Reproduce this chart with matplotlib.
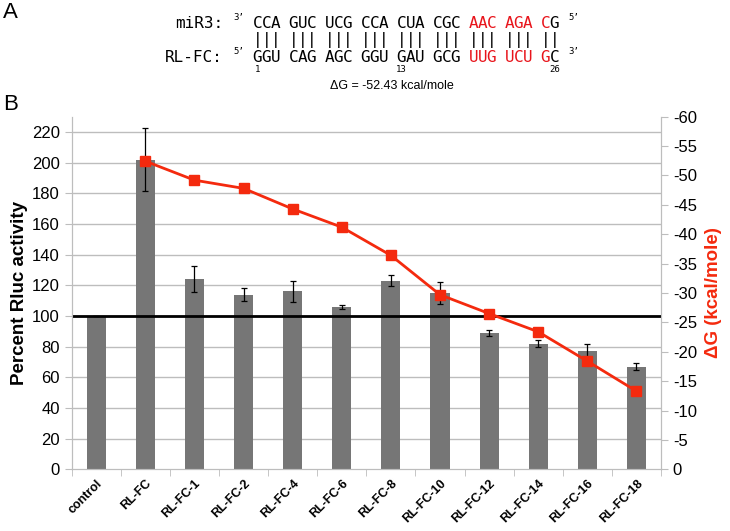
import matplotlib
matplotlib.use("Agg")
import matplotlib.pyplot as plt
import numpy as np

plt.rcParams['font.family'] = ['Liberation Sans', 'DejaVu Sans']
plt.rcParams['axes.unicode_minus'] = False

# Data
constructs = ['control', 'RL-FC', 'RL-FC-1', 'RL-FC-2', 'RL-FC-4', 'RL-FC-6',
              'RL-FC-8', 'RL-FC-10', 'RL-FC-12', 'RL-FC-14', 'RL-FC-16', 'RL-FC-18']
rluc_activity = [100, 202, 124, 114, 116, 106, 123, 115, 89, 82, 77, 67]
rluc_error = [0, 20.5, 8.5, 4.5, 7, 1.3, 3.5, 7.3, 1.9, 2.3, 5, 2.4]
delta_g = [np.nan, -52.43, -49.2, -47.8, -44.3, -41.2, -36.4, -29.7, -26.5, -23.4, -18.4, -13.3]

mir3_seq = "CCA GUC UCG CCA CUA CGC AAC AGA CG"
target_seq = "GGU CAG AGC GGU GAU GCG UUG UCU GC"
pair_marks = "||| ||| ||| ||| ||| ||| ||| ||| ||"
red_positions = [24, 25, 26, 28, 29, 30, 32]
position_labels = {0: '1', 16: '13', 33: '26'}

W, H = 730, 531
fig = plt.figure(figsize=(W / 100, H / 100), dpi=100)


def fx(px):
    return px / W


def fy(py):
    return 1 - py / H


# ---- panel A: sequence alignment ----
fig.text(fx(3), fy(13), 'A', fontsize=16, va='center', ha='left')
fig.text(fx(3), fy(104), 'B', fontsize=16, va='center', ha='left')

mono = 'DejaVu Sans Mono'
seq_size = 11.5
x0, step = 257.5, 9.0
rows = [(23, 'miR3:', mir3_seq, '3’', '5’'),
        (57, 'RL-FC:', target_seq, '5’', '3’')]
for y, label, seq, left_end, right_end in rows:
    fig.text(fx(223), fy(y), label, family=mono, fontsize=seq_size, ha='right', va='center')
    fig.text(fx(233), fy(y - 5), left_end, family=mono, fontsize=6.5, ha='left', va='center')
    fig.text(fx(568), fy(y - 5), right_end, family=mono, fontsize=6.5, ha='left', va='center')
    for i, ch in enumerate(seq):
        if ch == ' ':
            continue
        color = '#E8141B' if i in red_positions else 'black'
        fig.text(fx(x0 + i * step), fy(y), ch, family=mono, fontsize=seq_size,
                 ha='center', va='center', color=color)

for i, ch in enumerate(pair_marks):
    if ch == '|':
        fig.text(fx(x0 + i * step), fy(40), ch, family=mono, fontsize=seq_size,
                 ha='center', va='center')

for i, lab in position_labels.items():
    fig.text(fx(x0 + i * step), fy(70), lab, family=mono, fontsize=6.5,
             ha='center', va='center')

fig.text(fx(392), fy(86), 'ΔG = -52.43 kcal/mole', fontsize=9, ha='center', va='center')

# ---- panel B: bars + delta G line ----
ax = fig.add_axes([fx(71.7), fy(469.3), (661 - 71.7) / W, (469.3 - 116.7) / H])
x = np.arange(len(constructs))
grid_col = '#BDBDBD'
for v in range(20, 240, 20):
    ax.axhline(v, color=grid_col, lw=1, zorder=0)

ax.bar(x, rluc_activity, width=0.39, color='#767676', zorder=2,
       yerr=rluc_error, error_kw=dict(ecolor='black', elinewidth=0.9, capsize=2.5, capthick=0.9))
ax.axhline(100, color='black', lw=2, zorder=3)

ax.set_xlim(-0.5, len(constructs) - 0.5)
ax.set_ylim(0, 230)
ax.set_yticks(range(0, 240, 20))
ax.set_xticks(x)
ax.set_xticklabels(constructs, rotation=45, ha='right', rotation_mode='anchor',
                   fontsize=9, fontweight='bold')
ax.tick_params(axis='x', length=0, pad=6)
ax.set_xticks(np.arange(-0.5, len(constructs), 1), minor=True)
ax.tick_params(axis='x', which='minor', length=5, color=grid_col)
ax.tick_params(axis='y', length=5, color=grid_col, labelsize=12)
for side in ['left', 'bottom', 'right']:
    ax.spines[side].set_color(grid_col)
ax.spines['top'].set_visible(False)
ax.set_ylabel('Percent Rluc activity', fontsize=13.5, fontweight='bold', labelpad=3)

ax2 = ax.twinx()
ax2.plot(x, delta_g, color='#F42A0E', lw=2, marker='s', markersize=7, zorder=4)
ax2.set_ylim(0, -60)
ax2.set_yticks(range(0, -65, -5))
ax2.tick_params(axis='y', length=5, color=grid_col, labelsize=12)
for side in ['left', 'bottom', 'right']:
    ax2.spines[side].set_color(grid_col)
ax2.spines['top'].set_visible(False)
ax2.set_ylabel('ΔG (kcal/mole)', fontsize=13.5, fontweight='bold', color='#F42A0E', labelpad=6)

fig.savefig('out.png', dpi=100)
